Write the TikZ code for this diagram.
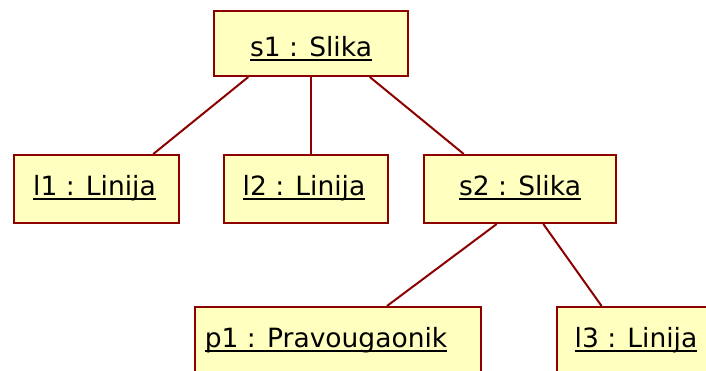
\documentclass[tikz,border=0pt]{standalone}
\usepackage{fontspec}
\setmainfont{DejaVu Sans}
\usetikzlibrary{calc}

\definecolor{objline}{RGB}{140,0,0}
\definecolor{objfill}{RGB}{255,255,192}

% underlined object name
\newcommand{\objname}[1]{\setbox0\hbox{#1}\rlap{\rule[-4.5pt]{\wd0}{2pt}}\box0}

\begin{document}
\begin{tikzpicture}[%
            x=1pt,
            y=-1pt,
            ]
    \tikzset{objbox/.style = {draw=objline, fill=objfill, line width=2pt, anchor=north west,
            inner sep=0pt, font=\fontsize{26.5}{30}\selectfont, text height=40pt, text depth=28pt,
            minimum height=68pt}}
    \tikzset{link/.style = {objline, line width=2pt}}

    \useasboundingbox (0,0) rectangle (706,370);

    % Objects
    \node[objbox, minimum width=194pt, minimum height=65pt, text height=45pt, text depth=20pt]
        (s1) at (213,10) {\objname{s1 : Slika}};
    \node[objbox, minimum width=165pt] (l1) at (13,154) {\objname{l1 : Linija}\hspace*{4pt}};
    \node[objbox, minimum width=164pt] (l2) at (223,154) {\objname{l2 : Linija}\hspace*{4pt}};
    \node[objbox, minimum width=192pt] (s2) at (423,154) {\objname{s2 : Slika}};
    \node[objbox, minimum width=286pt] (p1) at (194,306) {\objname{p1 : Pravougaonik}\hspace*{24pt}};
    \node[objbox, minimum width=158pt] (l3) at (556,306) {\objname{l3 : Linija}};

    % Links
    \draw[link] ($(s1.south west)!0.18!(s1.south east)$) -- ($(l1.north west)!0.84!(l1.north east)$);
    \draw[link] (s1.south) -- (s1.south |- l2.north);
    \draw[link] ($(s1.south west)!0.80!(s1.south east)$) -- ($(s2.north west)!0.21!(s2.north east)$);
    \draw[link] ($(s2.south west)!0.38!(s2.south east)$) -- ($(p1.north west)!0.67!(p1.north east)$);
    \draw[link] ($(s2.south west)!0.62!(s2.south east)$) -- ($(l3.north west)!0.285!(l3.north east)$);

\end{tikzpicture}
\end{document}
